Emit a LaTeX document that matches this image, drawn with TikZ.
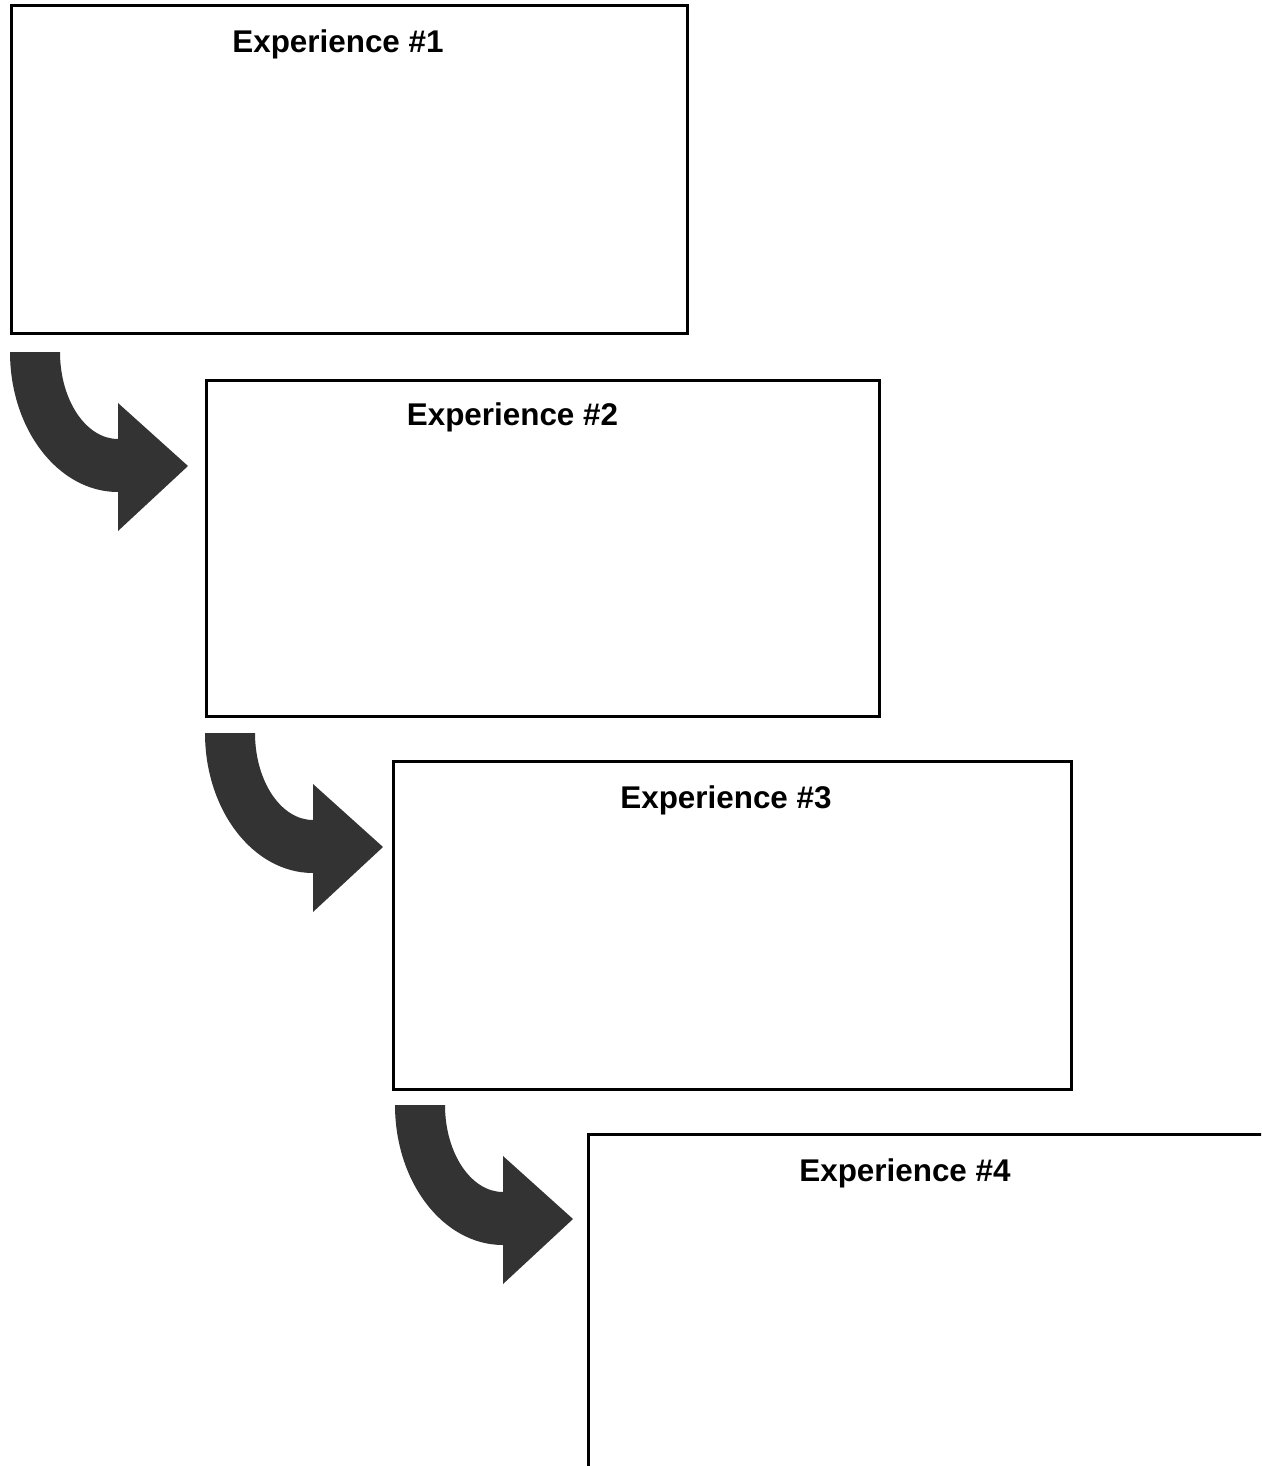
\documentclass[tikz,border=0pt]{standalone}
\usepackage{fontspec}
\setmainfont{Liberation Sans}
\begin{document}
\begin{tikzpicture}[x=1pt,y=-1pt,
  expbox/.style={draw=black,line width=3pt},
  exptitle/.style={anchor=base,inner sep=0pt,font=\fontsize{31.4}{36}\selectfont\bfseries},
  bigarrow/.style={fill=arrowgray,draw=none}]
\definecolor{arrowgray}{HTML}{333333}
\useasboundingbox (0,0) rectangle (1261,1466);
\clip (0,0) rectangle (1261,1466);
\fill[white] (0,0) rectangle (1261,1466);

% boxes
\draw[expbox] (11,6) rectangle (687,333);
\draw[expbox] (206,380) rectangle (879,716);
\draw[expbox] (393,761) rectangle (1071,1089);
\draw[expbox] (588,1134) rectangle (1320,1520);

% titles
\node[exptitle] (t1) at (338,53) {Experience \#1};
\node[exptitle] (t2) at (512.5,425) {Experience \#2};
\node[exptitle] (t3) at (726,808) {Experience \#3};
\node[exptitle] (t4) at (905,1181) {Experience \#4};

% curved arrows, defined by their tips
\coordinate (a1) at (188,466);
\coordinate (a2) at (383,847);
\coordinate (a3) at (573,1219);
\foreach \t in {a1,a2,a3}{
  \fill[bigarrow] ([shift={(-178,-114)}]\t)
    arc[start angle=180,end angle=90,x radius=108,y radius=140]
    -- ([shift={(-70,65)}]\t)
    -- (\t)
    -- ([shift={(-70,-63)}]\t)
    -- ([shift={(-70,-27)}]\t)
    arc[start angle=90,end angle=180,x radius=58,y radius=87]
    -- cycle;
}
\end{tikzpicture}
\end{document}
